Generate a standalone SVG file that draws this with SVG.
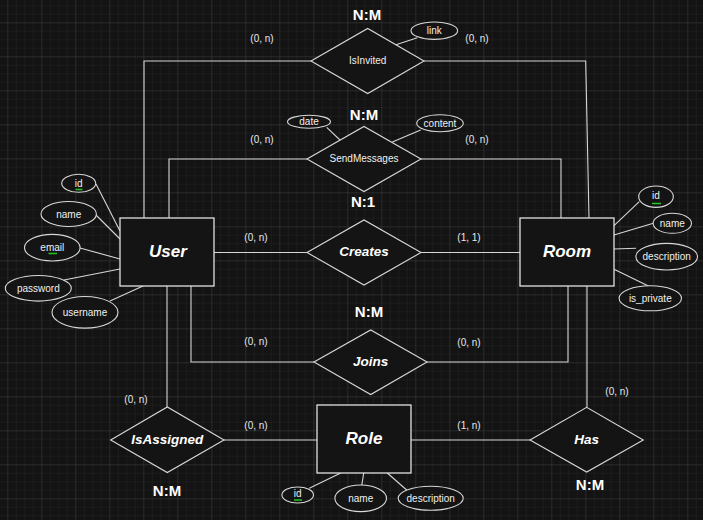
<svg xmlns="http://www.w3.org/2000/svg" width="703" height="520" viewBox="0 0 703 520">
<defs>
<pattern id="minor" x="7.3" y="22.3" width="8.5" height="8.5" patternUnits="userSpaceOnUse">
<path d="M0 0V8.5M0 0H8.5" fill="none" stroke="#232323" stroke-width="1"/>
</pattern>
<pattern id="major" x="7.3" y="22.3" width="34" height="34" patternUnits="userSpaceOnUse">
<path d="M0 0V34M0 0H34" fill="none" stroke="#363636" stroke-width="1"/>
</pattern>
<style>
.ent{fill:#141414;stroke:#e0e0e0;stroke-width:1.3}
.rel{fill:#141414;stroke:#d8d8d8;stroke-width:1.1}
.att{fill:#141414;stroke:#d8d8d8;stroke-width:1.1}
.ln{fill:none;stroke:#d6d6d6;stroke-width:1.1}
.pk{stroke:#22c822;stroke-width:1.5}
text{font-family:"Liberation Sans",Arial,sans-serif;text-anchor:middle}
.en{font-size:17px;font-weight:bold;font-style:italic;fill:#ffffff}
.rb{font-size:13.5px;font-weight:bold;font-style:italic;fill:#ffffff}
.rn{font-size:10px;fill:#f0f0f0}
.at{font-size:10px;fill:#f0f0f0}
.cd{font-size:10px;fill:#e4e8ee}
.mm{font-size:15px;font-weight:bold;fill:#ffffff}
</style>
</defs>
<rect width="703" height="520" fill="#131313"/>
<rect width="703" height="520" fill="url(#minor)"/>
<rect width="703" height="520" fill="url(#major)"/>

<g id="connectors">
<polyline class="ln" points="311,61 144,61 144,218"/>
<polyline class="ln" points="424,61 585.7,61 589,218"/>
<polyline class="ln" points="307,159 169,159 169,218"/>
<polyline class="ln" points="421,159 561,159 561,218"/>
<line class="ln" x1="214" y1="252.5" x2="307" y2="252.5"/>
<line class="ln" x1="421" y1="252.5" x2="520" y2="252.5"/>
<polyline class="ln" points="191,286 191,362 314,362"/>
<polyline class="ln" points="427,362 568,362 568,286"/>
<line class="ln" x1="587" y1="286" x2="587" y2="407"/>
<line class="ln" x1="530" y1="440" x2="411" y2="440"/>
<line class="ln" x1="167" y1="286" x2="167" y2="407"/>
<line class="ln" x1="224" y1="440" x2="317" y2="440"/>
<line class="ln" x1="96" y1="184" x2="120" y2="231"/>
<line class="ln" x1="96" y1="215" x2="120" y2="239"/>
<line class="ln" x1="80" y1="248" x2="120" y2="259"/>
<line class="ln" x1="64" y1="280" x2="120" y2="269"/>
<line class="ln" x1="110" y1="301" x2="143" y2="286"/>
<line class="ln" x1="614" y1="225.7" x2="639.3" y2="201.7"/>
<line class="ln" x1="614" y1="235" x2="653.3" y2="223.3"/>
<line class="ln" x1="614" y1="249" x2="636" y2="248.3"/>
<line class="ln" x1="614" y1="269.3" x2="650" y2="286.7"/>
<line class="ln" x1="309.3" y1="488.3" x2="340.7" y2="473"/>
<line class="ln" x1="363.7" y1="473" x2="361.7" y2="485.7"/>
<line class="ln" x1="387.3" y1="473" x2="406.7" y2="490"/>
<line class="ln" x1="396" y1="44.7" x2="417.3" y2="37.7"/>
<line class="ln" x1="326.7" y1="127.3" x2="340" y2="140"/>
<line class="ln" x1="392.3" y1="142" x2="420.7" y2="130"/>
</g>

<g id="labels">
<text class="mm" x="367" y="20">N:M</text>
<text class="cd" x="262" y="42">(0, n)</text>
<text class="cd" x="477" y="42">(0, n)</text>
<text class="mm" x="364" y="120">N:M</text>
<text class="cd" x="262" y="143">(0, n)</text>
<text class="cd" x="477" y="143">(0, n)</text>
<text class="mm" x="363" y="207">N:1</text>
<text class="cd" x="256" y="241">(0, n)</text>
<text class="cd" x="469" y="241">(1, 1)</text>
<text class="mm" x="369" y="317">N:M</text>
<text class="cd" x="256" y="345">(0, n)</text>
<text class="cd" x="469" y="346">(0, n)</text>
<text class="cd" x="136" y="403">(0, n)</text>
<text class="cd" x="256" y="429">(0, n)</text>
<text class="mm" x="167" y="496">N:M</text>
<text class="cd" x="469" y="429">(1, n)</text>
<text class="cd" x="617" y="395">(0, n)</text>
<text class="mm" x="590" y="490">N:M</text>
</g>

<g id="User">
<rect class="ent" x="120" y="218" width="94" height="68"/>
<text class="en" x="168" y="257">User</text>
</g>
<g id="Room">
<rect class="ent" x="520" y="218" width="94" height="68"/>
<text class="en" x="567" y="257">Room</text>
</g>
<g id="Role">
<rect class="ent" x="317" y="405" width="94" height="68"/>
<text class="en" x="364" y="444">Role</text>
</g>

<g id="IsInvited">
<polygon class="rel" points="311,61 367.7,28.5 424,61 367.7,93.5"/>
<text class="rn" x="367.7" y="64">IsInvited</text>
</g>
<g id="SendMessages">
<polygon class="rel" points="307,159 364,126.5 421,159 364,191.5"/>
<text class="rn" x="364" y="162">SendMessages</text>
</g>
<g id="Creates">
<polygon class="rel" points="307,252.5 364,220 421,252.5 364,285"/>
<text class="rb" x="364" y="256">Creates</text>
</g>
<g id="Joins">
<polygon class="rel" points="314,362 370.7,330 427,362 370.7,394.5"/>
<text class="rb" x="370.7" y="366">Joins</text>
</g>
<g id="IsAssigned">
<polygon class="rel" points="110.7,440 167.3,407 224,440 167.3,472.5"/>
<text class="rb" x="167.3" y="443.5">IsAssigned</text>
</g>
<g id="Has">
<polygon class="rel" points="530,440 586.7,407.3 643.3,440 586.7,472"/>
<text class="rb" x="586.7" y="443.5">Has</text>
</g>

<g id="User_id">
<ellipse class="att" cx="78.7" cy="183.3" rx="17" ry="9"/>
<text class="at" x="78.7" y="186.5">id</text>
<line class="pk" x1="75.5" y1="189.5" x2="82.5" y2="189.5"/>
</g>
<g id="User_name">
<ellipse class="att" cx="68.7" cy="214" rx="27.7" ry="12.5"/>
<text class="at" x="68.7" y="217.5">name</text>
</g>
<g id="User_email">
<ellipse class="att" cx="52.3" cy="247.7" rx="27.8" ry="13.3"/>
<text class="at" x="52.3" y="251">email</text>
<line class="pk" x1="48.5" y1="253.5" x2="57" y2="253.5"/>
</g>
<g id="User_password">
<ellipse class="att" cx="38.3" cy="288.3" rx="33" ry="12.8"/>
<text class="at" x="38.3" y="291.8">password</text>
</g>
<g id="User_username">
<ellipse class="att" cx="85" cy="312.3" rx="33" ry="15.8"/>
<text class="at" x="85" y="315.8">username</text>
</g>

<g id="Room_id">
<ellipse class="att" cx="656" cy="196.7" rx="17.3" ry="10.7"/>
<text class="at" x="656" y="198.5">id</text>
<line class="pk" x1="652" y1="203.5" x2="661" y2="203.5"/>
</g>
<g id="Room_name">
<ellipse class="att" cx="672.3" cy="223.3" rx="19.2" ry="10"/>
<text class="at" x="672.3" y="226.8">name</text>
</g>
<g id="Room_description">
<ellipse class="att" cx="666.7" cy="256.7" rx="30.8" ry="13.3"/>
<text class="at" x="666.7" y="260.2">description</text>
</g>
<g id="Room_is_private">
<ellipse class="att" cx="650.3" cy="298.3" rx="31.2" ry="12.5"/>
<text class="at" x="650.3" y="301.8">is_private</text>
</g>

<g id="Role_id">
<ellipse class="att" cx="297.7" cy="495" rx="15.8" ry="8"/>
<text class="at" x="297.7" y="497">id</text>
<line class="pk" x1="294" y1="500" x2="302" y2="500"/>
</g>
<g id="Role_name">
<ellipse class="att" cx="360.7" cy="498.3" rx="25.8" ry="13.3"/>
<text class="at" x="360.7" y="501.8">name</text>
</g>
<g id="Role_description">
<ellipse class="att" cx="430.7" cy="498.3" rx="32.5" ry="12"/>
<text class="at" x="430.7" y="501.8">description</text>
</g>

<g id="IsInvited_link">
<ellipse class="att" cx="434.3" cy="30.7" rx="23.3" ry="8.7"/>
<text class="at" x="434.3" y="33.5">link</text>
</g>
<g id="SendMessages_date">
<ellipse class="att" cx="309" cy="121.7" rx="21.5" ry="6.5"/>
<text class="at" x="309" y="125">date</text>
</g>
<g id="SendMessages_content">
<ellipse class="att" cx="440" cy="123.3" rx="23.3" ry="8.5"/>
<text class="at" x="440" y="126.5">content</text>
</g>
</svg>
